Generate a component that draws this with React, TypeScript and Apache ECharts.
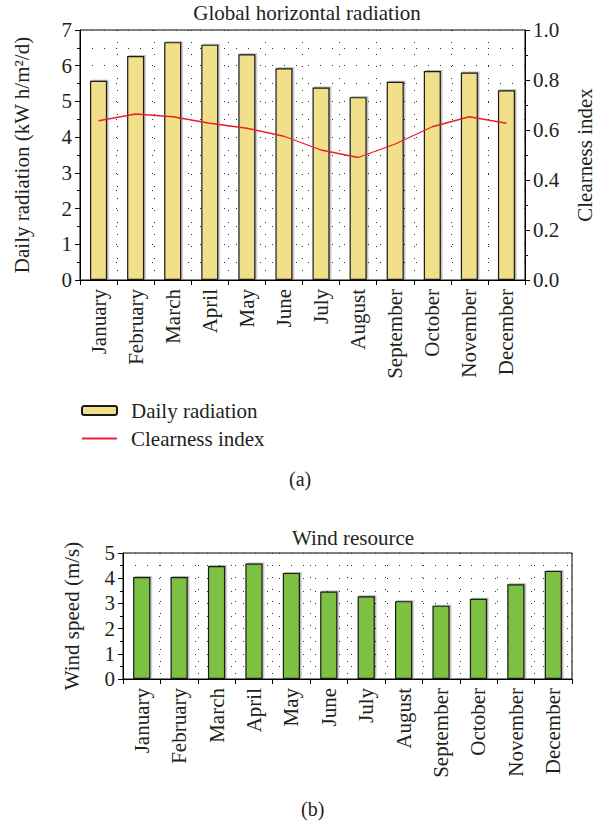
import React, { useEffect, useRef } from "react";
import * as echarts from "echarts";

const months = ["January", "February", "March", "April", "May", "June", "July", "August", "September", "October", "November", "December"];
const dailyRadiation = [5.58, 6.27, 6.66, 6.59, 6.32, 5.93, 5.39, 5.12, 5.55, 5.85, 5.81, 5.31];
const clearnessIndex = [0.637, 0.664, 0.653, 0.627, 0.607, 0.575, 0.52, 0.49, 0.544, 0.613, 0.653, 0.627];
const windSpeed = [4.05, 4.05, 4.48, 4.58, 4.21, 3.47, 3.28, 3.09, 2.91, 3.18, 3.76, 4.29];

const FONT = "Liberation Serif";
const TXT = "#231f20";
const dotted = { type: [1, 11] as any, color: "#333", width: 1 };

export default function App() {
  const ref = useRef<HTMLDivElement>(null);
  useEffect(() => {
    document.body.style.margin = "0";
    const chart = echarts.init(ref.current!, null, { renderer: "svg" });
    const catAxis = (gridIndex: number) => ({
      type: "category",
      gridIndex,
      data: months,
      boundaryGap: true,
      axisLine: { lineStyle: { color: "#000", width: 1 } },
      axisTick: { show: true, length: 5, lineStyle: { color: "#000" } },
      axisLabel: { rotate: 90, color: TXT, fontFamily: FONT, fontSize: 21, margin: 9 },
      splitLine: { show: true, lineStyle: dotted },
    });
    const valAxis = (gridIndex: number, max: number, name: string, nameGap: number) => ({
      type: "value",
      gridIndex,
      min: 0,
      max,
      interval: 1,
      name,
      nameLocation: "middle",
      nameGap,
      nameTextStyle: { color: TXT, fontFamily: FONT, fontSize: 21 },
      axisLine: { show: true, lineStyle: { color: "#000" } },
      axisTick: { show: true, length: 5, lineStyle: { color: "#000" } },
      minorTick: { show: true, splitNumber: 2, length: 3, lineStyle: { color: "#000" } },
      axisLabel: { color: TXT, fontFamily: FONT, fontSize: 21, margin: 8 },
      splitLine: { show: true, lineStyle: dotted },
      minorSplitLine: { show: true, lineStyle: dotted },
    });
    const barStyle = (color: string) => ({
      color,
      borderColor: "#1a1a1a",
      borderWidth: 1.2,
      shadowColor: "rgba(0,0,0,0.28)",
      shadowOffsetX: 1.5,
      shadowOffsetY: -1,
      shadowBlur: 0,
    });
    chart.setOption({
      animation: false,
      backgroundColor: "#fff",
      title: [
        { text: "Global horizontal radiation", left: 302, top: -3, textAlign: "center", textStyle: { fontFamily: FONT, fontSize: 21, fontWeight: "normal", color: TXT } },
        { text: "Wind resource", left: 348, top: 522, textAlign: "center", textStyle: { fontFamily: FONT, fontSize: 21, fontWeight: "normal", color: TXT } },
      ],
      grid: [
        { left: 80, right: 70, top: 30, height: 250, show: true, borderColor: "#000", borderWidth: 1, outerBoundsMode: "none", containLabel: false },
        { left: 123, right: 23, top: 553, height: 126, show: true, borderColor: "#000", borderWidth: 1, outerBoundsMode: "none", containLabel: false },
      ],
      legend: {
        orient: "vertical",
        left: 81,
        top: 400,
        padding: 0,
        itemWidth: 35,
        itemHeight: 9,
        itemGap: 7,
        data: [
          { name: "Daily radiation" },
          { name: "Clearness index", itemStyle: { opacity: 0 } },
        ],
        textStyle: { fontFamily: FONT, fontSize: 21, color: TXT, padding: [0, 0, 0, 9] },
      },
      xAxis: [catAxis(0), catAxis(1)],
      yAxis: [
        valAxis(0, 7, "Daily radiation (kW h/m²/d)", 48),
        {
          type: "value",
          gridIndex: 0,
          position: "right",
          min: 0,
          max: 1,
          interval: 0.2,
          name: "Clearness index",
          nameLocation: "middle",
          nameGap: 49,
          nameRotate: 90,
          nameTextStyle: { color: TXT, fontFamily: FONT, fontSize: 21 },
          axisLine: { show: true, lineStyle: { color: "#000" } },
          axisTick: { show: true, length: 5, lineStyle: { color: "#000" } },
          minorTick: { show: true, splitNumber: 2, length: 3, lineStyle: { color: "#000" } },
          axisLabel: { color: TXT, fontFamily: FONT, fontSize: 21, margin: 8, formatter: (v: number) => v.toFixed(1) },
          splitLine: { show: false },
        },
        valAxis(1, 5, "Wind speed (m/s)", 41),
      ],
      series: [
        { name: "Daily radiation", type: "bar", xAxisIndex: 0, yAxisIndex: 0, data: dailyRadiation, barWidth: "46%", itemStyle: barStyle("#f2df8a") },
        { name: "Clearness index", type: "line", xAxisIndex: 0, yAxisIndex: 1, data: clearnessIndex, symbol: "none", lineStyle: { color: "#e8202a", width: 1.3 }, itemStyle: { color: "#e8202a" } },
        { name: "Wind speed", type: "bar", xAxisIndex: 1, yAxisIndex: 2, data: windSpeed, barWidth: "46%", itemStyle: barStyle("#7dc142") },
      ],
      graphic: [
        { type: "text", left: 289, top: 469, style: { text: "(a)", font: `20px "${FONT}"`, fill: TXT } },
        { type: "text", left: 301, top: 799, style: { text: "(b)", font: `20px "${FONT}"`, fill: TXT } },
      ],
    });
    return () => chart.dispose();
  }, []);
  return <div ref={ref} style={{ width: 595, height: 824 }} />;
}
